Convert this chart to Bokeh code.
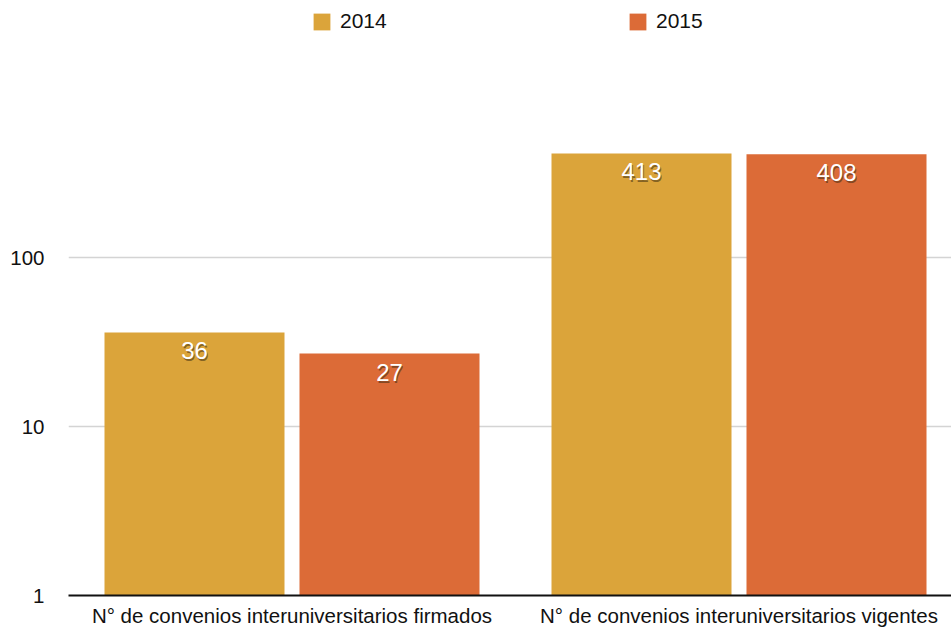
from bokeh.plotting import figure
from bokeh.models import ColumnDataSource, FixedTicker, Legend, LegendItem
from bokeh.transform import dodge
from bokeh.core.properties import value
from bokeh.embed import file_html
from bokeh.resources import INLINE

categories = ["N° de convenios interuniversitarios firmados",
              "N° de convenios interuniversitarios vigentes"]
series_names = ["2014", "2015"]
values_2014 = [36, 413]
values_2015 = [27, 408]
y_ticks = [1, 10, 100]

colors = ["#dba43a", "#dc6b37"]
FONT = "Liberation Sans"

xpos = list(range(len(categories)))
src = ColumnDataSource(dict(
    x=xpos,
    v2014=values_2014,
    v2015=values_2015,
    l2014=[str(v) for v in values_2014],
    l2015=[str(v) for v in values_2015],
))

W, H = 951, 630
FRAME_H = 595
p = figure(width=W, height=H, output_backend="svg", toolbar_location=None,
           y_axis_type="log", x_range=(-0.5, -0.5 + 883 / 447),
           y_range=(1, 10 ** (FRAME_H / 169)),
           min_border_left=68, min_border_right=0, min_border_top=0,
           min_border_bottom=H - FRAME_H)
p.outline_line_color = None
p.background_fill_color = "white"
p.border_fill_color = "white"

bw = 180 / 447
off = 97.5 / 447
r1 = p.vbar(x=dodge("x", -off), top="v2014", bottom=1, width=bw, source=src,
            fill_color=colors[0], line_color=None)
r2 = p.vbar(x=dodge("x", off), top="v2015", bottom=1, width=bw, source=src,
            fill_color=colors[1], line_color=None)

for key, o in (("l2014", -off), ("l2015", off)):
    yk = "v" + key[1:]
    p.text(x=dodge("x", o), y=yk, text=key, source=src, x_offset=1, y_offset=20.5,
           text_align="center", text_baseline="middle", text_font=value(FONT),
           text_font_size="24px", text_color="#3a2a10", text_alpha=0.55)
    p.text(x=dodge("x", o), y=yk, text=key, source=src, x_offset=0, y_offset=18.5,
           text_align="center", text_baseline="middle", text_font=value(FONT),
           text_font_size="24px", text_color="white")

# axes
p.xaxis.ticker = FixedTicker(ticks=xpos)
p.xaxis.major_label_overrides = {i: c for i, c in enumerate(categories)}
p.xaxis.major_tick_line_color = None
p.xaxis.major_tick_out = 0
p.xaxis.major_tick_in = 0
p.xaxis.minor_tick_line_color = None
p.xaxis.axis_line_color = "#111111"
p.xaxis.axis_line_width = 2
p.xaxis.major_label_text_font = FONT
p.xaxis.major_label_text_font_size = "20.5px"
p.xaxis.major_label_text_color = "#111111"
p.xaxis.major_label_standoff = 8

p.yaxis.ticker = FixedTicker(ticks=y_ticks)
p.yaxis.major_label_overrides = {1: "1", 10: "10", 100: "100"}
p.yaxis.axis_line_color = None
p.yaxis.major_tick_line_color = None
p.yaxis.major_tick_out = 0
p.yaxis.major_tick_in = 0
p.yaxis.minor_tick_line_color = None
p.yaxis.major_label_text_font = FONT
p.yaxis.major_label_text_font_size = "20.5px"
p.yaxis.major_label_text_color = "#111111"
p.yaxis.major_label_standoff = 24

p.xgrid.grid_line_color = None
p.ygrid.grid_line_color = "#d4d4d4"
p.ygrid.grid_line_width = 1.5
p.ygrid.minor_grid_line_color = None

for r, name, lx in ((r1, series_names[0], 243), (r2, series_names[1], 559)):
    lg = Legend(items=[LegendItem(label=name, renderers=[r])],
                location=(lx, 562), orientation="horizontal",
                padding=0, margin=0, border_line_color=None,
                background_fill_alpha=0, glyph_width=21, glyph_height=21,
                label_standoff=8, label_text_font=FONT,
                label_text_font_size="21px", label_text_color="#111111",
                label_height=21)
    p.add_layout(lg, "center")

open("out.html", "w").write(file_html(p, INLINE))
